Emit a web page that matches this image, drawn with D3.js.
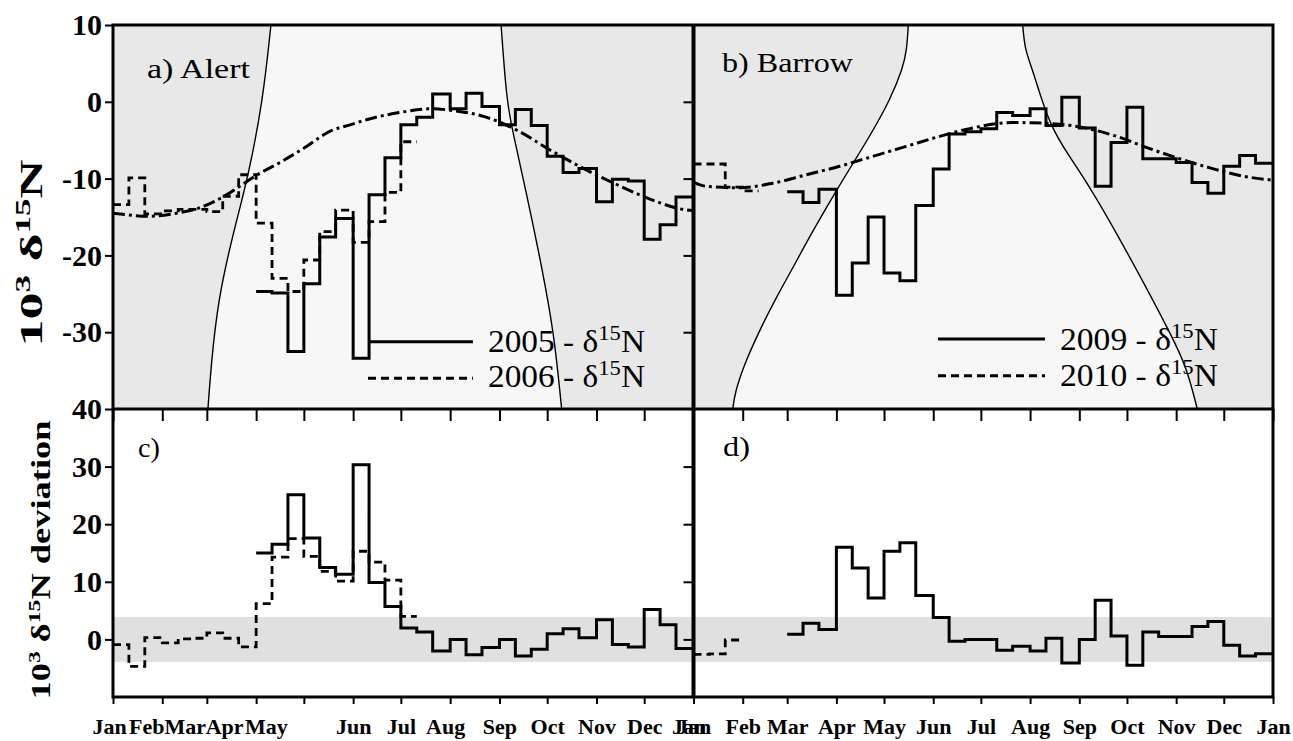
<!DOCTYPE html>
<html><head><meta charset="utf-8">
<script src="https://cdn.jsdelivr.net/npm/d3@7"></script>
<style>
body{margin:0;background:#fff;}
svg text{font-family:"Liberation Serif","Times New Roman",serif;fill:#000;}
</style></head><body>
<svg id="chart" width="1293" height="741"></svg>
<script>
// ---------- DATA ----------
const monthLabels = ["Jan","Feb","Mar","Apr","May","Jun","Jul","Aug","Sep","Oct","Nov","Dec","Jan"];
const monthStarts = [0,31,59,90,120,151,181,212,243,273,304,334,365];
const topTicks = [10,0,-10,-20,-30];
const topTickLabels = ["10","0","-10","-20","-30"];
const botTicks = [40,30,20,10,0];
const botTickLabels = ["40","30","20","10","0"];

// 10-day (dekad) bins, 36 per year, index 0 = Jan 1-10
const alert2005 = [null,null,null,null,null,null,null,null,null,
  -24.7,-24.9,-32.5,-23.7,-17.6,-15.2,-33.4,-12.1,-7.3,
  -3.0,-2.0,1.0,-0.9,1.1,-0.6,-3.0,-1.0,-3.1,
  -7.1,-9.2,-8.7,-13.0,-10.1,-10.3,-17.9,-16.0,-12.4];
const alert2006 = [-13.4,-9.9,-14.6,-14.2,-14.0,-14.0,-14.3,-12.3,-9.5,
  -15.8,-23.0,-24.7,-20.6,-16.9,-14.1,-18.3,-15.6,-11.8,
  -5.2,null,null,null,null,null,null,null,null,
  null,null,null,null,null,null,null,null,null];
const barrow2009 = [null,null,null,null,null,null,-11.7,-13.1,-11.4,
  -25.2,-21.0,-15.0,-22.3,-23.3,-13.5,-8.75,-4.2,-3.9,
  -3.5,-1.4,-1.8,-0.9,-3.1,0.6,-3.4,-11.0,-5.3,
  -0.7,-7.4,-7.4,-7.9,-10.5,-11.9,-8.4,-7.0,-8.0];
const barrow2010 = [-8.1,-8.1,-11.1,-11.6,null,null,null,null,null,
  null,null,null,null,null,null,null,null,null,
  null,null,null,null,null,null,null,null,null,
  null,null,null,null,null,null,null,null,null];

const devAlert2005 = [null,null,null,null,null,null,null,null,null,
  15.0,16.5,25.1,17.6,12.5,11.3,30.3,9.9,5.7,
  2.0,1.3,-2.0,0.0,-2.65,-1.4,0.0,-2.9,-1.7,
  1.0,1.85,0.3,3.4,-0.9,-1.3,5.2,2.55,-1.6];
const devAlert2006 = [-0.9,-4.7,0.3,-0.6,0.1,0.2,1.15,0.2,-1.3,
  6.2,14.3,17.5,14.4,11.8,10.1,15.3,13.4,10.3,
  4.0,null,null,null,null,null,null,null,null,
  null,null,null,null,null,null,null,null,null];
const devBarrow2009 = [null,null,null,null,null,null,0.9,2.8,1.7,
  16.0,12.4,7.2,15.3,16.8,7.6,3.8,-0.3,0.0,
  0.0,-1.9,-1.2,-2.0,0.2,-4.1,0.0,6.8,0.6,
  -4.5,1.3,0.5,0.5,2.25,3.1,-1.0,-2.9,-2.5];
const devBarrow2010 = [-2.6,-2.5,-0.1,null,null,null,null,null,null,
  null,null,null,null,null,null,null,null,null,
  null,null,null,null,null,null,null,null,null,
  null,null,null,null,null,null,null,null,null];

// seasonal climatology (dash-dot), [day of year, value]
const climAlertDays = [0,23,40,53,69,84,90,105,118,138,149,160,180,201,212,233,254,275,296,317,338,358,365];
const climAlert     = [-14.5,-14.9,-14.5,-13.9,-12.4,-10.4,-9.6,-7.9,-6.3,-3.7,-3.0,-2.3,-1.4,-0.9,-1.1,-1.9,-3.7,-6.3,-8.7,-10.8,-12.7,-14.0,-14.2];
const climBarrowDays = [0,8,29,50,71,92,113,134,155,176,201,222,244,265,286,306,327,348,365];
const climBarrow     = [-10.5,-11.0,-11.2,-10.6,-9.5,-8.4,-7.1,-5.8,-4.5,-3.4,-2.7,-2.8,-3.3,-4.4,-6.0,-7.4,-8.7,-9.75,-10.2];

// sunlit-season boundaries, [day, value on top-panel axis]
const alertRiseDays = [99.3,94.3,84.9,75.5,66.0,61.6,59.7];
const alertRiseVals = [10,0.2,-9.9,-17.1,-25.8,-34.5,-40];
const alertSetDays  = [244,247.5,250.7,260.9,269.6,277.3,282.1];
const alertSetVals  = [10,0.2,-3.3,-12.8,-21.5,-30.1,-40];
const barrowRiseDays = [135.3,134.3,132.1,123.8,112.2,100.6,90.2,74.4,62.9,51.3,40.8,31.4,26.1,24.7];
const barrowRiseVals = [10,6.74,4.53,0.23,-4.06,-7.97,-11.48,-17.08,-21.5,-25.8,-30.1,-34.5,-37.9,-40];
const barrowSetDays  = [207.3,208.8,213.0,219.3,225.6,234.0,249.7,266.5,289.4,300.1,310.6,317.3];
const barrowSetVals  = [10,6.74,4.53,0.23,-3.28,-6.28,-11.1,-17.1,-25.8,-30.1,-34.5,-40];

const bandLow = -3.9, bandHigh = 3.9;

// ---------- LAYOUT ----------
const svg = d3.select("#chart");
const L = 113, M = 693.5, R = 1273, T = 25, MID = 409, B = 697;
const xA = d3.scaleLinear().domain([0,365]).range([L,M]);
const xB = d3.scaleLinear().domain([0,365]).range([M,R]);
const yTop = d3.scaleLinear().domain([-40,10]).range([MID,T]);
const yBot = d3.scaleLinear().domain([-10,40]).range([B,MID]);

const DARK = "#e8e8e8", LIGHT = "#f7f7f7", BAND = "#e0e0e0";

function binStart(i){const m=Math.floor(i/3),k=i%3;return monthStarts[m]+[0,10,20][k];}
function binEnd(i){const m=Math.floor(i/3),k=i%3;return k<2?monthStarts[m]+[10,20][k]:monthStarts[m+1];}
function stepPoints(vals){
  const pts=[];
  vals.forEach((v,i)=>{
    if(v==null){pts.push({d:binStart(i),v:null});return;}
    pts.push({d:binStart(i),v:v});
    if(i===vals.length-1||vals[i+1]==null) pts.push({d:binEnd(i),v:v});
  });
  return pts;
}
const defs = svg.append("defs");
function clip(id,x0,x1,y0,y1){
  defs.append("clipPath").attr("id",id).append("rect")
    .attr("x",x0).attr("y",y0).attr("width",x1-x0).attr("height",y1-y0);
}
clip("ca",L,M,T,MID); clip("cb",M,R,T,MID); clip("cc",L,M,MID,B); clip("cd",M,R,MID,B);

function topPanel(id,x,riseD,riseV,setD,setV,climD,climV,solid,dashed){
  const g = svg.append("g").attr("clip-path",`url(#${id})`);
  g.append("rect").attr("x",x.range()[0]).attr("y",T).attr("width",x.range()[1]-x.range()[0]).attr("height",MID-T).attr("fill",DARK);
  const bl = d3.line().x(d=>x(d[0])).y(d=>yTop(d[1])).curve(d3.curveBasis);
  const rise = riseD.map((d,i)=>[d,riseV[i]]);
  const set = setD.map((d,i)=>[d,setV[i]]);
  const p1 = bl(rise), p2 = bl(set.slice().reverse());
  g.append("path").attr("d",p1+"L"+p2.slice(1)+"Z").attr("fill",LIGHT);
  g.append("path").attr("d",p1).attr("fill","none").attr("stroke","#000").attr("stroke-width",1.4);
  g.append("path").attr("d",bl(set)).attr("fill","none").attr("stroke","#000").attr("stroke-width",1.4);
  const cl = d3.line().x(d=>x(d[0])).y(d=>yTop(d[1])).curve(d3.curveMonotoneX);
  g.append("path").attr("d",cl(climD.map((d,i)=>[d,climV[i]])))
    .attr("fill","none").attr("stroke","#000").attr("stroke-width",3).attr("stroke-dasharray","12,4,3,4");
  stepLines(g,x,yTop,solid,dashed);
}
function stepLines(g,x,y,solid,dashed){
  const sl = d3.line().defined(d=>d.v!=null).x(d=>x(d.d)).y(d=>y(d.v)).curve(d3.curveStepAfter);
  g.append("path").attr("d",sl(stepPoints(dashed))).attr("fill","none").attr("stroke","#000")
    .attr("stroke-width",2.8).attr("stroke-dasharray","8,5");
  g.append("path").attr("d",sl(stepPoints(solid))).attr("fill","none").attr("stroke","#000")
    .attr("stroke-width",3);
}
function botPanel(id,x,solid,dashed){
  const g = svg.append("g").attr("clip-path",`url(#${id})`);
  g.append("rect").attr("x",x.range()[0]).attr("y",yBot(bandHigh)).attr("width",x.range()[1]-x.range()[0])
    .attr("height",yBot(bandLow)-yBot(bandHigh)).attr("fill",BAND);
  stepLines(g,x,yBot,solid,dashed);
}
topPanel("ca",xA,alertRiseDays,alertRiseVals,alertSetDays,alertSetVals,climAlertDays,climAlert,alert2005,alert2006);
topPanel("cb",xB,barrowRiseDays,barrowRiseVals,barrowSetDays,barrowSetVals,climBarrowDays,climBarrow,barrow2009,barrow2010);
botPanel("cc",xA,devAlert2005,devAlert2006);
botPanel("cd",xB,devBarrow2009,devBarrow2010);

// ---------- FRAMES & AXES ----------
const ax = svg.append("g").attr("stroke","#000").attr("fill","none");
ax.append("rect").attr("x",L).attr("y",T).attr("width",R-L).attr("height",B-T).attr("stroke-width",3);
ax.append("line").attr("x1",L).attr("x2",R).attr("y1",MID).attr("y2",MID).attr("stroke-width",3);
ax.append("line").attr("x1",M).attr("x2",M).attr("y1",T).attr("y2",B).attr("stroke-width",4);

const yTopAxis = d3.axisLeft(yTop).tickValues(topTicks).tickFormat((d,i)=>topTickLabels[i]).tickSizeInner(8).tickSizeOuter(0).tickPadding(3);
const yBotAxis = d3.axisLeft(yBot).tickValues(botTicks).tickFormat((d,i)=>botTickLabels[i]).tickSizeInner(8).tickSizeOuter(0).tickPadding(3);
function styleAxis(sel,fs){
  sel.select(".domain").remove();
  sel.selectAll(".tick line").attr("stroke","#000").attr("stroke-width",2);
  sel.selectAll(".tick text").attr("font-size",fs).attr("font-weight","bold")
    .attr("font-family","'Liberation Serif',serif").attr("fill","#000");
}
svg.append("g").attr("transform",`translate(${L},0)`).call(yTopAxis).call(s=>styleAxis(s,30));
svg.append("g").attr("transform",`translate(${L},0)`).call(yBotAxis).call(s=>styleAxis(s,30));
svg.append("g").attr("transform",`translate(${M},0)`).call(d3.axisLeft(yTop).tickValues([0,-10,-20,-30]).tickSize(10).tickFormat(""))
  .call(s=>styleAxis(s,0));
svg.append("g").attr("transform",`translate(${M},0)`).call(d3.axisLeft(yBot).tickValues([30,20,10,0]).tickSize(10).tickFormat(""))
  .call(s=>styleAxis(s,0));

// x axes
const shiftA = [-4,-16,-22,-32,-38,0,0,-5,0,0,0,0,-5];
[[xA,shiftA],[xB,null]].forEach(([x,shift])=>{
  svg.append("g").attr("transform",`translate(0,${MID})`)
    .call(d3.axisBottom(x).tickValues(monthStarts).tickSize(-12).tickFormat(""))
    .call(s=>{s.select(".domain").remove();s.selectAll(".tick line").attr("stroke","#000").attr("stroke-width",2).attr("y1",12).attr("y2",0);});
  const gb = svg.append("g").attr("transform",`translate(0,${B})`)
    .call(d3.axisBottom(x).tickValues(monthStarts).tickSize(7).tickPadding(14).tickFormat((d,i)=>monthLabels[i]));
  gb.select(".domain").remove();
  gb.selectAll(".tick line").attr("stroke","#000").attr("stroke-width",2);
  gb.selectAll(".tick text").attr("font-size",22).attr("font-weight","bold").attr("fill","#000")
    .attr("font-family","'Liberation Serif',serif")
    .attr("dx",(d,i)=>shift?shift[i]:0);
});

// ---------- TEXT ----------
function ytitle(cx,cy,len,fs,extra){
  const t = svg.append("text").attr("transform",`translate(${cx},${cy}) rotate(-90)`)
    .attr("text-anchor","middle").attr("font-weight","bold").attr("font-size",fs)
    .attr("textLength",len).attr("lengthAdjust","spacingAndGlyphs");
  t.append("tspan").text("10");
  t.append("tspan").attr("font-size",fs*0.65).attr("dy",-fs*0.38).text("3");
  t.append("tspan").attr("dy",fs*0.38).text(" δ");
  t.append("tspan").attr("font-size",fs*0.65).attr("dy",-fs*0.38).text("15");
  t.append("tspan").attr("dy",fs*0.38).text("N"+extra);
}
ytitle(42,253,187,31,"");
ytitle(50,560,279,27," deviation");

function plabel(x,y,txt,len){
  const t = svg.append("text").attr("x",x).attr("y",y).attr("font-size",28).text(txt);
  if(len) t.attr("textLength",len).attr("lengthAdjust","spacingAndGlyphs");
}
plabel(147,78,"a) Alert",103);
plabel(722,72,"b) Barrow",131);
plabel(138,457,"c)",22);
plabel(723,456,"d)",27);

function legendItem(x0,x1,y,dash,tx,ty,year,len){
  svg.append("line").attr("x1",x0).attr("x2",x1).attr("y1",y).attr("y2",y)
    .attr("stroke","#000").attr("stroke-width",3).attr("stroke-dasharray",dash?"8,5":null);
  const t = svg.append("text").attr("x",tx).attr("y",ty).attr("font-size",31)
    .attr("textLength",len).attr("lengthAdjust","spacingAndGlyphs");
  t.append("tspan").text(year+" - δ");
  t.append("tspan").attr("font-size",21).attr("dy",-12).text("15");
  t.append("tspan").attr("dy",12).text("N");
}
legendItem(368,473,341.7,false,488,352,"2005",157);
legendItem(368,473,378.3,true,488,387,"2006",157);
legendItem(938,1045,339,false,1060,350,"2009",158);
legendItem(938,1045,375.7,true,1060,386,"2010",158);
</script>
</body></html>
